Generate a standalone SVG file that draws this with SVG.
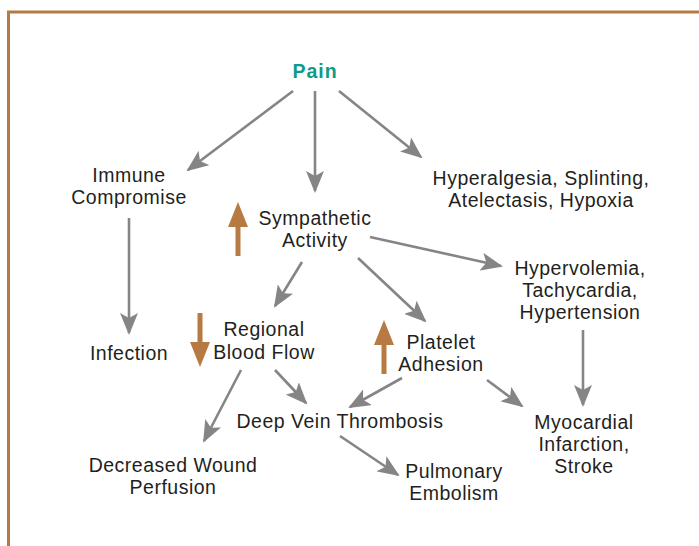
<svg xmlns="http://www.w3.org/2000/svg" width="699" height="546" viewBox="0 0 699 546">
<style>
.t{font-family:"Liberation Sans",Arial,sans-serif;font-size:19.5px;letter-spacing:0.5px;fill:#231f20;text-anchor:middle}
.title{font-family:"Liberation Sans",Arial,sans-serif;font-size:19.5px;letter-spacing:1px;font-weight:bold;fill:#0f9a8a;text-anchor:middle}
.c{stroke:#858585;stroke-width:2.6;fill:none;marker-end:url(#ah)}
.b{fill:#b77a42}
</style>
<defs>
<marker id="ah" markerUnits="userSpaceOnUse" markerWidth="22" markerHeight="18" viewBox="0 0 22 18" refX="20" refY="9" orient="auto">
<path d="M0,0 L22,9 L0,18 L5,9 Z" fill="#858585"/>
</marker>
</defs>
<rect width="699" height="546" fill="#fff"/>
<path d="M8.5,546 V12 H699" stroke="#b77a42" stroke-width="3" fill="none"/>
<g id="connectors">
<line class="c" x1="293" y1="91" x2="188" y2="170"/>
<line class="c" x1="315" y1="91" x2="315" y2="191"/>
<line class="c" x1="339" y1="91" x2="421" y2="157"/>
<line class="c" x1="129" y1="218" x2="129" y2="333"/>
<line class="c" x1="370" y1="237" x2="501" y2="266"/>
<line class="c" x1="302" y1="262" x2="275" y2="306"/>
<line class="c" x1="358" y1="258" x2="425" y2="321"/>
<line class="c" x1="583" y1="330" x2="583" y2="405"/>
<line class="c" x1="241" y1="370" x2="204" y2="441"/>
<line class="c" x1="275" y1="370" x2="306" y2="403"/>
<line class="c" x1="402" y1="378" x2="350" y2="407"/>
<line class="c" x1="487" y1="380" x2="522" y2="406"/>
<line class="c" x1="340" y1="436" x2="398" y2="475"/>
</g>
<g id="pain"><text class="title" x="315" y="78">Pain</text></g>
<g id="immune"><text class="t" x="129" y="182">Immune</text><text class="t" x="129" y="204">Compromise</text></g>
<g id="hyperalgesia"><text class="t" x="541" y="185">Hyperalgesia, Splinting,</text><text class="t" x="541" y="207">Atelectasis, Hypoxia</text></g>
<g id="sympathetic">
<path class="b" d="M238,202 L248,227 L240.5,227 L240.5,256 L235.5,256 L235.5,227 L228,227 Z"/>
<text class="t" x="315" y="225">Sympathetic</text><text class="t" x="315" y="247">Activity</text></g>
<g id="hypervolemia"><text class="t" x="580" y="275">Hypervolemia,</text><text class="t" x="580" y="297">Tachycardia,</text><text class="t" x="580" y="319">Hypertension</text></g>
<g id="infection"><text class="t" x="129" y="360">Infection</text></g>
<g id="regional">
<path class="b" d="M200,367 L190,342 L197.5,342 L197.5,313 L202.5,313 L202.5,342 L210,342 Z"/>
<text class="t" x="264" y="336">Regional</text><text class="t" x="264" y="359">Blood Flow</text></g>
<g id="platelet">
<path class="b" d="M384,320 L394,345 L386.5,345 L386.5,374 L381.5,374 L381.5,345 L374,345 Z"/>
<text class="t" x="441" y="349">Platelet</text><text class="t" x="441" y="371">Adhesion</text></g>
<g id="dvt"><text class="t" x="340" y="428">Deep Vein Thrombosis</text></g>
<g id="myocardial"><text class="t" x="584" y="429">Myocardial</text><text class="t" x="584" y="451">Infarction,</text><text class="t" x="584" y="473">Stroke</text></g>
<g id="wound"><text class="t" x="173" y="472">Decreased Wound</text><text class="t" x="173" y="494">Perfusion</text></g>
<g id="pulmonary"><text class="t" x="454" y="478">Pulmonary</text><text class="t" x="454" y="500">Embolism</text></g>
</svg>
